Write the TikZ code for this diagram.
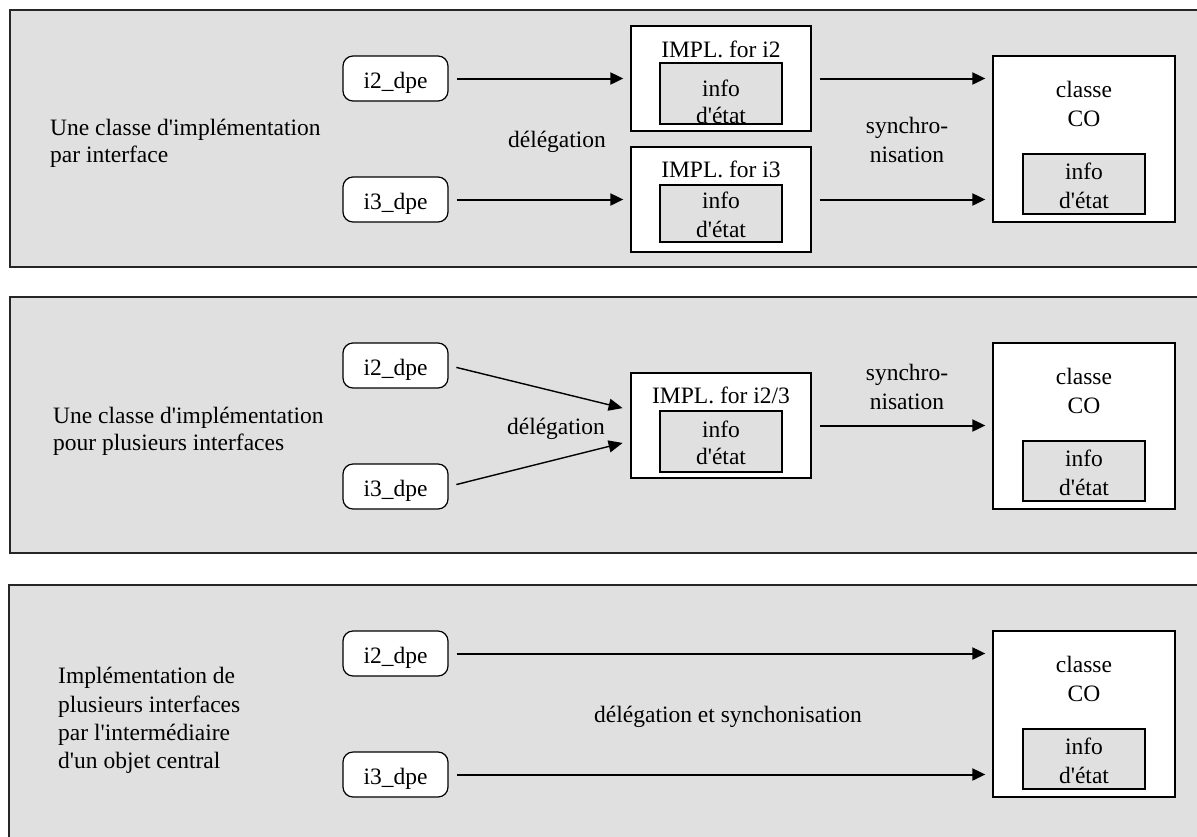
\documentclass[tikz,border=0pt]{standalone}
\usepackage{fontspec}
\setmainfont{Liberation Serif}
\usetikzlibrary{arrows.meta}
\definecolor{panelgray}{RGB}{224,224,224}
% straight apostrophe
\newcommand{\ap}{\textquotesingle}
\begin{document}
\begin{tikzpicture}[x=1pt,y=-1pt,
  panel/.style={draw=black!85, line width=1.3pt, fill=panelgray},
  iface/.style={draw, fill=white, rounded corners=10pt, line width=1.2pt,
    minimum width=105pt, minimum height=45pt, inner sep=0pt,
    text height=20pt, text depth=0pt, font=\fontsize{23.5}{28}\selectfont},
  implbox/.style={draw, fill=white, line width=1.3pt, minimum width=180pt, minimum height=105pt, inner sep=0pt},
  cobox/.style={draw, fill=white, line width=1.3pt, minimum width=182pt, minimum height=166pt, inner sep=0pt},
  statebox/.style={draw, fill=panelgray, line width=1.3pt, minimum width=122pt, minimum height=60pt, inner sep=0pt},
  lbl/.style={inner sep=0pt, anchor=base, font=\fontsize{23.5}{28}\selectfont},
  lblw/.style={lbl, anchor=base west},
  flow/.style={line width=2pt, -{Triangle[length=13pt,width=12pt]}, shorten <=8pt, shorten >=7pt},
  slant/.style={line width=1.4pt, -{Triangle[length=14pt,width=12pt]}, shorten <=8pt, shorten >=8pt}]
\useasboundingbox (0,0) rectangle (1197,836);
\clip (0,0) rectangle (1197,836);

% the three background panels
\draw[panel] (10,10) rectangle (1215,267);
\draw[panel] (10,297) rectangle (1215,553);
\draw[panel] (9,585) rectangle (1215,850);

% ---------- one implementation class per interface ----------
\node[lblw] (p1-d1) at (50,135) {Une classe d\ap implémentation};
\node[lblw] (p1-d2) at (50,162) {par interface};

\node[iface] (p1-i2) at (395.5,78.5) {i2\_dpe};
\node[iface] (p1-i3) at (395.5,199.5) {i3\_dpe};

\node[implbox] (p1-impl2) at (721,78.5) {};
\node[statebox, minimum height=61pt] (p1-st2) at (721,93.5) {};
\node[lbl] (p1-impl2-t) at (721,57) {IMPL. for i2};
\node[lbl] (p1-st2-a) at (721,96) {info};
\node[lbl] (p1-st2-b) at (721,123) {d\ap état};

\node[implbox] (p1-impl3) at (721,199.5) {};
\node[statebox, minimum height=57pt] (p1-st3) at (721,213.5) {};
\node[lbl] (p1-impl3-t) at (721,177) {IMPL. for i3};
\node[lbl] (p1-st3-a) at (721,208) {info};
\node[lbl] (p1-st3-b) at (721,237) {d\ap état};

\node[cobox] (p1-co) at (1084,139) {};
\node[statebox] (p1-cost) at (1084,184) {};
\node[lbl] (p1-co-a) at (1084,97) {classe};
\node[lbl] (p1-co-b) at (1084,126) {CO};
\node[lbl] (p1-cost-a) at (1084,179) {info};
\node[lbl] (p1-cost-b) at (1084,208) {d\ap état};

\node[lbl] (p1-deleg) at (557,147) {délégation};
\node[lbl] (p1-sync1) at (907,133) {synchro-};
\node[lbl] (p1-sync2) at (907,162) {nisation};

\draw[flow] (p1-i2) -- (p1-impl2);
\draw[flow] (p1-i3) -- (p1-impl3);
\draw[flow] (p1-impl2.east) -- (p1-impl2.east -| p1-co.west);
\draw[flow] (p1-impl3.east) -- (p1-impl3.east -| p1-co.west);

% ---------- one implementation class for several interfaces ----------
\node[lblw] (p2-d1) at (53,423) {Une classe d\ap implémentation};
\node[lblw] (p2-d2) at (53,450) {pour plusieurs interfaces};

\node[iface] (p2-i2) at (395.5,365.5) {i2\_dpe};
\node[iface] (p2-i3) at (395.5,486.5) {i3\_dpe};

\node[implbox] (p2-impl) at (721,425.5) {};
\node[statebox, minimum height=61pt] (p2-st) at (721,441.5) {};
\node[lbl] (p2-impl-t) at (721,403) {IMPL. for i2/3};
\node[lbl] (p2-st-a) at (721,437) {info};
\node[lbl] (p2-st-b) at (721,464) {d\ap état};

\node[cobox] (p2-co) at (1084,426) {};
\node[statebox] (p2-cost) at (1084,471) {};
\node[lbl] (p2-co-a) at (1084,384) {classe};
\node[lbl] (p2-co-b) at (1084,413) {CO};
\node[lbl] (p2-cost-a) at (1084,466) {info};
\node[lbl] (p2-cost-b) at (1084,495) {d\ap état};

\node[lbl] (p2-deleg) at (556,434) {délégation};
\node[lbl] (p2-sync1) at (907,380) {synchro-};
\node[lbl] (p2-sync2) at (907,409) {nisation};

\draw[slant] (p2-i2.east) -- ([yshift=15.5pt]p2-impl.west);
\draw[slant] (p2-i3.east) -- ([yshift=-15.5pt]p2-impl.west);
\draw[flow] (p2-impl.east) -- (p2-impl.east -| p2-co.west);

% ---------- several interfaces through a central object ----------
\node[lblw] (p3-d1) at (58,683) {Implémentation de};
\node[lblw] (p3-d2) at (58,712) {plusieurs interfaces};
\node[lblw] (p3-d3) at (58,740) {par l\ap intermédiaire};
\node[lblw] (p3-d4) at (58,768) {d\ap un objet central};

\node[iface] (p3-i2) at (395.5,653.5) {i2\_dpe};
\node[iface] (p3-i3) at (395.5,774.5) {i3\_dpe};

\node[cobox] (p3-co) at (1084,714) {};
\node[statebox] (p3-cost) at (1084,759) {};
\node[lbl] (p3-co-a) at (1084,672) {classe};
\node[lbl] (p3-co-b) at (1084,701) {CO};
\node[lbl] (p3-cost-a) at (1084,754) {info};
\node[lbl] (p3-cost-b) at (1084,783) {d\ap état};

\node[lbl] (p3-deleg) at (728,722) {délégation et synchonisation};

\draw[flow] (p3-i2.east) -- (p3-i2.east -| p3-co.west);
\draw[flow] (p3-i3.east) -- (p3-i3.east -| p3-co.west);
\end{tikzpicture}
\end{document}
